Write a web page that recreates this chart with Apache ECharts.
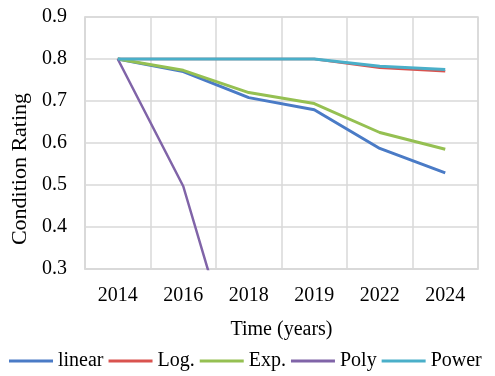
<!DOCTYPE html>
<html>
<head>
<meta charset="utf-8">
<script src="https://cdn.jsdelivr.net/npm/echarts@6/dist/echarts.min.js"></script>
<style>
html,body{margin:0;padding:0;background:#fff;}
#chart{width:495px;height:376px;}
</style>
</head>
<body>
<div id="chart"></div>
<script>
var years = ['2014', '2016', '2018', '2019', '2022', '2024'];
var linearVals = [0.8, 0.770, 0.708, 0.679, 0.587, 0.529];
var logVals = [0.8, 0.8, 0.8, 0.8, 0.779, 0.771];
var expVals = [0.8, 0.773, 0.720, 0.694, 0.625, 0.585];
var polyVals = [0.8, 0.497, -0.03, null, null, null];
var powerVals = [0.8, 0.8, 0.8, 0.8, 0.783, 0.775];
var yTicks = {min: 0.3, max: 0.9, step: 0.1};

var font = 'Liberation Serif';
function line(name, data, color, width) {
  return {
    name: name, type: 'line', data: data, symbol: 'none',
    clip: true, connectNulls: false,
    lineStyle: {color: color, width: width},
    itemStyle: {color: color}
  };
}
var chart = echarts.init(document.getElementById('chart'));
chart.setOption({
  animation: false,
  backgroundColor: '#fff',
  grid: {left: 85, right: 17, top: 17, bottom: 107, show: true,
    borderColor: '#d9d9d9', borderWidth: 1.5},
  xAxis: {
    type: 'category', data: years, boundaryGap: true,
    name: 'Time (years)', nameLocation: 'middle', nameGap: 51,
    nameTextStyle: {fontFamily: font, fontSize: 20, color: '#000'},
    axisLine: {lineStyle: {color: '#d9d9d9', width: 1.5}},
    axisTick: {show: false},
    axisLabel: {fontFamily: font, fontSize: 20, color: '#000', margin: 17},
    splitLine: {show: true, lineStyle: {color: '#d9d9d9', width: 1.5}}
  },
  yAxis: {
    type: 'value', min: yTicks.min, max: yTicks.max, interval: yTicks.step,
    name: 'Condition Rating', nameLocation: 'middle', nameGap: 52,
    nameTextStyle: {fontFamily: font, fontSize: 22, color: '#000', padding: [0, 52, 0, 0]},
    axisLine: {show: true, lineStyle: {color: '#d9d9d9', width: 1.5}},
    axisTick: {show: false},
    axisLabel: {fontFamily: font, fontSize: 20, color: '#000', margin: 18,
      formatter: function (v) { return v.toFixed(1); }},
    splitLine: {show: true, lineStyle: {color: '#d9d9d9', width: 1.5}}
  },
  legend: {
    left: 9, top: 351, padding: 0, width: 486, itemWidth: 44, itemHeight: 3, itemGap: 5,
    icon: 'rect',
    textStyle: {fontFamily: font, fontSize: 20, color: '#000'},
    data: ['linear', 'Log.', 'Exp.', 'Poly', 'Power']
  },
  series: [
    line('linear', linearVals, '#4a7bc6', 3),
    line('Log.', logVals, '#d9534f', 2.5),
    line('Exp.', expVals, '#95c052', 3),
    line('Poly', polyVals, '#8064a8', 2.5),
    line('Power', powerVals, '#4aafc9', 3)
  ]
});
</script>
</body>
</html>
